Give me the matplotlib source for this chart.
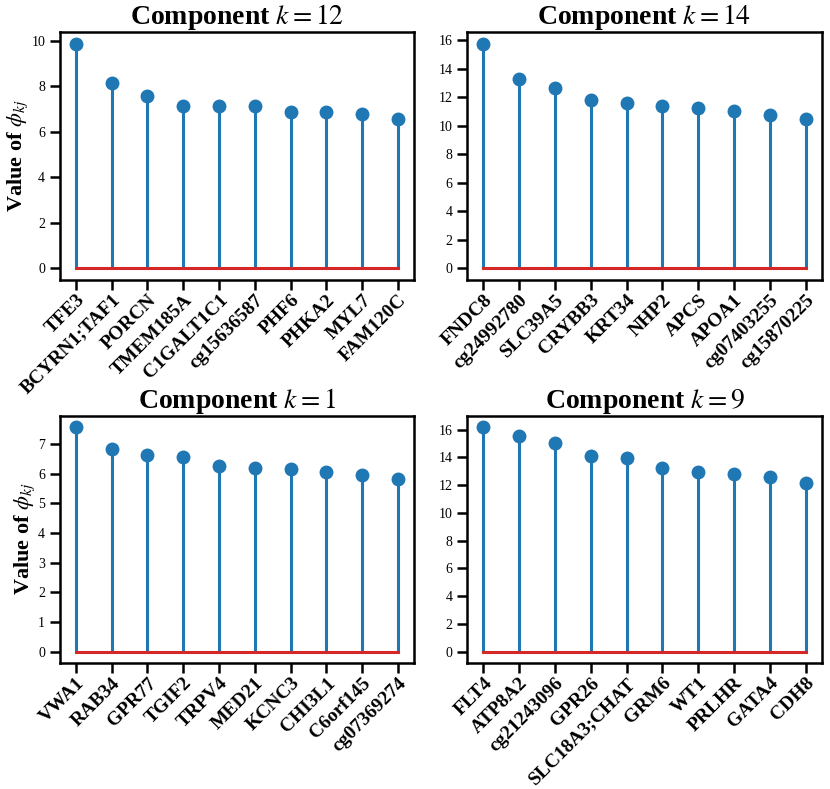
import matplotlib
matplotlib.use("Agg")
import matplotlib.pyplot as plt
from matplotlib.ticker import MultipleLocator

plt.rcParams['font.family'] = ['Liberation Serif', 'DejaVu Serif']
plt.rcParams['mathtext.fontset'] = 'stix'

# component ids (titles)
components = [12, 14, 1, 9]

genes_k12 = ['TFE3', 'BCYRN1;TAF1', 'PORCN', 'TMEM185A', 'C1GALT1C1',
             'cg15636587', 'PHF6', 'PHKA2', 'MYL7', 'FAM120C']
phi_k12 = [9.88, 8.14, 7.59, 7.15, 7.14, 7.14, 6.89, 6.89, 6.80, 6.57]

genes_k14 = ['FNDC8', 'cg24992780', 'SLC39A5', 'CRYBB3', 'KRT34',
             'NHP2', 'APCS', 'APOA1', 'cg07403255', 'cg15870225']
phi_k14 = [15.77, 13.25, 12.64, 11.80, 11.59, 11.40, 11.24, 11.03, 10.77, 10.47]

genes_k1 = ['VWA1', 'RAB34', 'GPR77', 'TGIF2', 'TRPV4',
            'MED21', 'KCNC3', 'CHI3L1', 'C6orf145', 'cg07369274']
phi_k1 = [7.58, 6.84, 6.64, 6.55, 6.27, 6.18, 6.17, 6.06, 5.97, 5.83]

genes_k9 = ['FLT4', 'ATP8A2', 'cg21243096', 'GPR26', 'SLC18A3;CHAT',
            'GRM6', 'WT1', 'PRLHR', 'GATA4', 'CDH8']
phi_k9 = [16.21, 15.54, 15.04, 14.08, 13.93, 13.24, 12.95, 12.83, 12.59, 12.13]

panels = [(genes_k12, phi_k12), (genes_k14, phi_k14),
          (genes_k1, phi_k1), (genes_k9, phi_k9)]
tick_step = [2, 2, 1, 2]

fig, axes = plt.subplots(2, 2, figsize=(8.3, 7.89), dpi=100)
axes = axes.flatten()

for i, (ax, (genes, vals)) in enumerate(zip(axes, panels)):
    x = list(range(len(genes)))
    markerline, stemlines, baseline = ax.stem(x, vals)
    plt.setp(markerline, color='#1f77b4', markersize=9)
    plt.setp(stemlines, color='#1f77b4', linewidth=2.2)
    plt.setp(baseline, color='#d62728', linewidth=2.2)
    ax.set_xticks(x)
    ax.set_xticklabels(genes, rotation=45, ha='right', rotation_mode='anchor',
                       fontsize=14, fontweight='bold')
    ax.yaxis.set_major_locator(MultipleLocator(tick_step[i]))
    ax.tick_params(axis='both', direction='out', length=7, width=1.8)
    ax.tick_params(axis='y', labelsize=10)
    ax.tick_params(axis='x', pad=1.5)
    for sp in ax.spines.values():
        sp.set_linewidth(1.8)
    ax.set_title(r'Component $k=%d$' % components[i], fontsize=20,
                 fontweight='bold', pad=4)
    if i % 2 == 0:
        ax.set_ylabel(r'Value of $\phi_{kj}$', fontsize=16, fontweight='bold',
                      labelpad=1)

fig.subplots_adjust(left=0.072, right=0.99, top=0.959, bottom=0.16,
                    hspace=0.55, wspace=0.15)
fig.savefig('out.png')
